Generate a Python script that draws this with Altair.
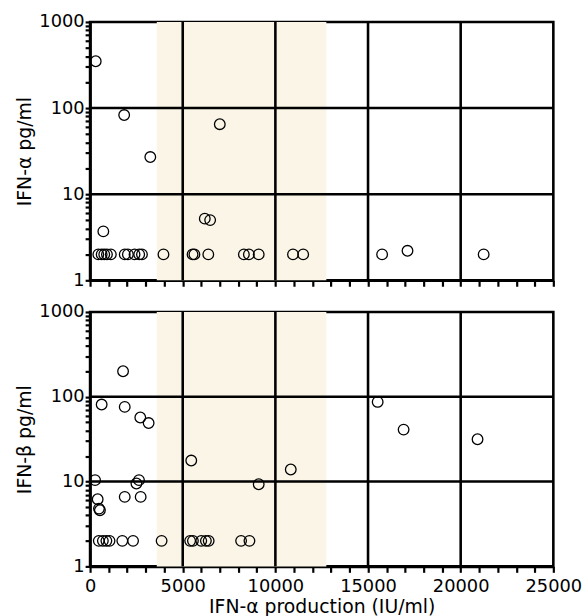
import altair as alt
import pandas as pd

# Upper panel: IFN-alpha pg/ml vs IFN-alpha production (IU/ml)
alpha_x = [305, 1840, 3250, 7000, 6190, 6480, 715,
           445, 625, 765, 910, 1120, 1870, 2040, 2400, 2650, 2800, 3960,
           5530, 5630, 6380, 8300, 8570, 9100, 10950, 11500, 15760, 17130, 21240]
alpha_y = [350, 83, 27, 65, 5.2, 5.0, 3.7,
           2, 2, 2, 2, 2, 2, 2, 2, 2, 2, 2,
           2, 2, 2, 2, 2, 2, 2, 2, 2, 2.2, 2]

# Lower panel: IFN-beta pg/ml vs IFN-alpha production (IU/ml)
beta_x = [1780, 625, 1870, 2710, 3160, 5460, 270, 2500, 2640, 1870, 2730, 410, 480, 530,
          9100, 10830, 15520, 16920, 20910,
          470, 690, 880, 1050, 1740, 2320, 3860, 5400, 5550, 6000, 6250, 6400, 8150, 8600]
beta_y = [200, 81, 76, 57, 49, 17.7, 10.4, 9.5, 10.4, 6.6, 6.6, 6.2, 4.8, 4.6,
          9.3, 13.9, 87, 41, 31.6,
          2, 2, 2, 2, 2, 2, 2, 2, 2, 2, 2, 2, 2, 2]

band_start = [3600]
band_end = [12750]

grid_x = [5000, 10000, 15000, 20000]
grid_y = [10, 100]

x_ticks = [0, 1000, 2000, 3000, 4000, 5000, 6000, 7000, 8000, 9000, 10000,
           11000, 12000, 13000, 14000, 15000, 16000, 17000, 18000, 19000, 20000,
           21000, 22000, 23000, 24000, 25000]
y_ticks = [1, 2, 3, 4, 5, 6, 7, 8, 9, 10, 20, 30, 40, 50, 60, 70, 80, 90,
           100, 200, 300, 400, 500, 600, 700, 800, 900, 1000]

FONT = "DejaVu Sans"
x_major = "datum.value % 5000 === 0"
y_major = "abs(log(datum.value)/LN10 - round(log(datum.value)/LN10)) < 0.000001"


def panel(xs, ys, ytitle, bottom, height):
    df = pd.DataFrame({"x": xs, "y": ys})
    band_df = pd.DataFrame({"x0": band_start, "x1": band_end})
    gx_df = pd.DataFrame({"gx": grid_x})
    gy_df = pd.DataFrame({"gy": grid_y})
    xscale = alt.Scale(domain=[0, 25000], nice=False, zero=False)
    yscale = alt.Scale(type="log", domain=[1, 1000], nice=False)
    xaxis = alt.Axis(
        values=x_ticks,
        labels=bottom,
        labelExpr=f"{x_major} ? format(datum.value, 'd') : ''",
        labelOverlap=False,
        labelFlush=False,
        labelFont=FONT, labelFontSize=18, labelColor="black", labelPadding=5,
        title="IFN-α production (IU/ml)" if bottom else None,
        titleFont=FONT, titleFontSize=19, titleFontWeight="normal", titleColor="black",
        titlePadding=3,
        grid=False,
        ticks=True, tickColor="black", tickWidth=2.2, tickSize=6, tickOpacity=1,
        domain=True, domainColor="black", domainWidth=2.6,
    )
    yaxis = alt.Axis(
        values=y_ticks,
        labelExpr=f"{y_major} ? format(datum.value, 'd') : ''",
        labelOverlap=False,
        labelFont=FONT, labelFontSize=18, labelColor="black", labelPadding=1,
        title=ytitle,
        titleFont=FONT, titleFontSize=19, titleFontWeight="normal", titleColor="black",
        titlePadding=4,
        grid=False,
        ticks=True, tickColor="black", tickWidth=2.2, tickSize=5, tickOpacity=1,
        domain=True, domainColor="black", domainWidth=2.6,
    )
    band = alt.Chart(band_df).mark_rect(color="#faf5e7").encode(
        x=alt.X("x0:Q", scale=xscale, axis=xaxis),
        x2="x1:Q",
        y=alt.value(0),
        y2=alt.value(height),
    )
    gx = alt.Chart(gx_df).mark_rule(color="black", strokeWidth=2.6).encode(
        x=alt.X("gx:Q", scale=xscale, axis=xaxis),
    )
    gy = alt.Chart(gy_df).mark_rule(color="black", strokeWidth=2.6).encode(
        y=alt.Y("gy:Q", scale=yscale, axis=yaxis),
    )
    pts = alt.Chart(df).mark_point(
        shape="circle", filled=False, stroke="black", strokeWidth=1.3,
        size=115, opacity=1,
    ).encode(
        x=alt.X("x:Q", scale=xscale, axis=xaxis),
        y=alt.Y("y:Q", scale=yscale, axis=yaxis),
    )
    return alt.layer(band, gx, gy, pts).properties(width=468, height=height)


top = panel(alpha_x, alpha_y, "IFN-α pg/ml", False, 261)
bot = panel(beta_x, beta_y, "IFN-β pg/ml", True, 257)

chart = alt.vconcat(top, bot, spacing=10).properties(
    padding={"left": 14, "top": 8, "right": 3, "bottom": 0},
    background="white",
).configure_view(stroke="black", strokeWidth=2.6)

chart.save("out.html", embed_options={"renderer": "svg", "actions": False})
